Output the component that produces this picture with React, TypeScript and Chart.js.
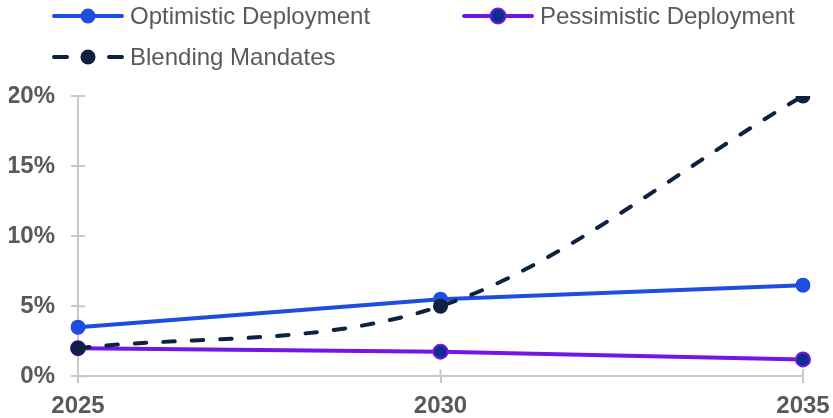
import React, { useEffect, useRef } from "react";
import { Chart, registerables } from "chart.js";

Chart.register(...registerables);

const years = ["2025", "2030", "2035"];
const optimistic = [3.5, 5.5, 6.5];
const pessimistic = [2.0, 1.75, 1.2];
const blending = [2.0, 5.0, 20.0];
const yTicks = [0, 5, 10, 15, 20];

const BLUE = "#1f4de0";
const PURPLE = "#7317e6";
const PURPLE_FILL = "#0a2f8c";
const NAVY = "#0d2240";
const AXIS = "#c8c8c8";
const TEXT = "#595959";
const FONT = "'Liberation Sans', Arial, sans-serif";

const legendItems = [
  { label: "Optimistic Deployment", line: BLUE, fill: BLUE, border: BLUE, dash: false, row: 0, col: 0 },
  { label: "Pessimistic Deployment", line: PURPLE, fill: PURPLE_FILL, border: PURPLE, dash: false, row: 0, col: 1 },
  { label: "Blending Mandates", line: NAVY, fill: NAVY, border: NAVY, dash: true, row: 1, col: 0 },
];

const legendPlugin = {
  id: "customLegend",
  afterDraw(chart: any) {
    const ctx = chart.ctx;
    ctx.save();
    legendItems.forEach((it) => {
      const x0 = 53 + it.col * 410;
      const y = 16 + it.row * 41;
      ctx.strokeStyle = it.line;
      ctx.lineWidth = 4;
      ctx.lineCap = "round";
      if (it.dash) {
        ctx.beginPath();
        ctx.moveTo(x0 + 1, y);
        ctx.lineTo(x0 + 14, y);
        ctx.moveTo(x0 + 56, y);
        ctx.lineTo(x0 + 69, y);
        ctx.stroke();
      } else {
        ctx.beginPath();
        ctx.moveTo(x0 + 1, y);
        ctx.lineTo(x0 + 69, y);
        ctx.stroke();
      }
      ctx.beginPath();
      ctx.arc(x0 + 35, y, 7.5, 0, Math.PI * 2);
      ctx.fillStyle = it.fill;
      ctx.fill();
      if (it.border !== it.fill) {
        ctx.lineWidth = 2;
        ctx.strokeStyle = it.border;
        ctx.stroke();
      }
      ctx.fillStyle = TEXT;
      ctx.font = `24px ${FONT}`;
      ctx.textBaseline = "middle";
      ctx.textAlign = "left";
      ctx.fillText(it.label, x0 + 77, y + 1);
    });
    ctx.restore();
  },
};

const innerTicksPlugin = {
  id: "innerTicks",
  beforeDatasetsDraw(chart: any) {
    const ctx = chart.ctx;
    const xs = chart.scales.x;
    const ys = chart.scales.y;
    const area = chart.chartArea;
    ctx.save();
    ctx.strokeStyle = AXIS;
    ctx.lineWidth = 2;
    ctx.beginPath();
    xs.ticks.forEach((_t: any, i: number) => {
      const px = xs.getPixelForTick(i);
      ctx.moveTo(px, area.bottom);
      ctx.lineTo(px, area.bottom - 7);
    });
    ys.ticks.forEach((_t: any, i: number) => {
      const py = ys.getPixelForTick(i);
      ctx.moveTo(area.left, py);
      ctx.lineTo(area.left + 7, py);
    });
    ctx.stroke();
    ctx.restore();
  },
};

export default function App() {
  const ref = useRef<HTMLCanvasElement | null>(null);

  useEffect(() => {
    document.body.style.margin = "0";
    document.documentElement.style.overflow = "hidden";
    document.body.style.overflow = "hidden";
    const canvas = ref.current;
    if (!canvas) return;
    const chart = new Chart(canvas, {
      type: "line",
      data: {
        labels: years,
        datasets: [
          {
            label: "Optimistic Deployment",
            data: optimistic,
            borderColor: BLUE,
            backgroundColor: BLUE,
            pointBackgroundColor: BLUE,
            pointBorderColor: BLUE,
            pointBorderWidth: 0,
            pointRadius: 7.5,
            borderWidth: 4,
            tension: 0,
            order: 2,
          },
          {
            label: "Pessimistic Deployment",
            data: pessimistic,
            borderColor: PURPLE,
            backgroundColor: PURPLE_FILL,
            pointBackgroundColor: PURPLE_FILL,
            pointBorderColor: PURPLE,
            pointBorderWidth: 2,
            pointRadius: 7,
            borderWidth: 4,
            tension: 0,
            order: 3,
          },
          {
            label: "Blending Mandates",
            data: blending,
            borderColor: NAVY,
            backgroundColor: NAVY,
            pointBackgroundColor: NAVY,
            pointBorderColor: NAVY,
            pointBorderWidth: 0,
            pointRadius: 7.5,
            borderWidth: 4,
            borderDash: [11.5, 17],
            borderCapStyle: "round",
            cubicInterpolationMode: "monotone",
            order: 1,
          },
        ],
      },
      options: {
        animation: false,
        responsive: true,
        maintainAspectRatio: false,
        layout: { padding: { top: 96, left: 9, right: 30, bottom: 0 } },
        plugins: {
          legend: { display: false },
          tooltip: { enabled: false },
        },
        scales: {
          x: {
            offset: false,
            afterFit: (scale: any) => {
              scale.paddingLeft = 0;
              scale.paddingRight = 0;
            },
            grid: {
              drawOnChartArea: false,
              drawTicks: true,
              tickLength: 7,
              color: AXIS,
              lineWidth: 2,
            },
            border: { display: true, color: AXIS, width: 2 },
            ticks: {
              color: TEXT,
              padding: 9,
              maxRotation: 0,
              font: { family: FONT, size: 24, weight: "bold" },
            },
          },
          y: {
            min: 0,
            max: 20,
            afterBuildTicks: (scale: any) => {
              scale.ticks = yTicks.map((v) => ({ value: v }));
            },
            afterFit: (scale: any) => {
              scale.width = 69;
            },
            grid: {
              drawOnChartArea: false,
              drawTicks: true,
              tickLength: 7,
              color: AXIS,
              lineWidth: 2,
            },
            border: { display: true, color: AXIS, width: 2 },
            ticks: {
              color: TEXT,
              padding: 16,
              font: { family: FONT, size: 24, weight: "bold" },
              callback: (v: any) => `${v}%`,
            },
          },
        },
      },
      plugins: [legendPlugin, innerTicksPlugin],
    });
    return () => chart.destroy();
  }, []);

  return (
    <div style={{ width: 833, height: 430, position: "relative" }}>
      <canvas ref={ref} />
    </div>
  );
}
